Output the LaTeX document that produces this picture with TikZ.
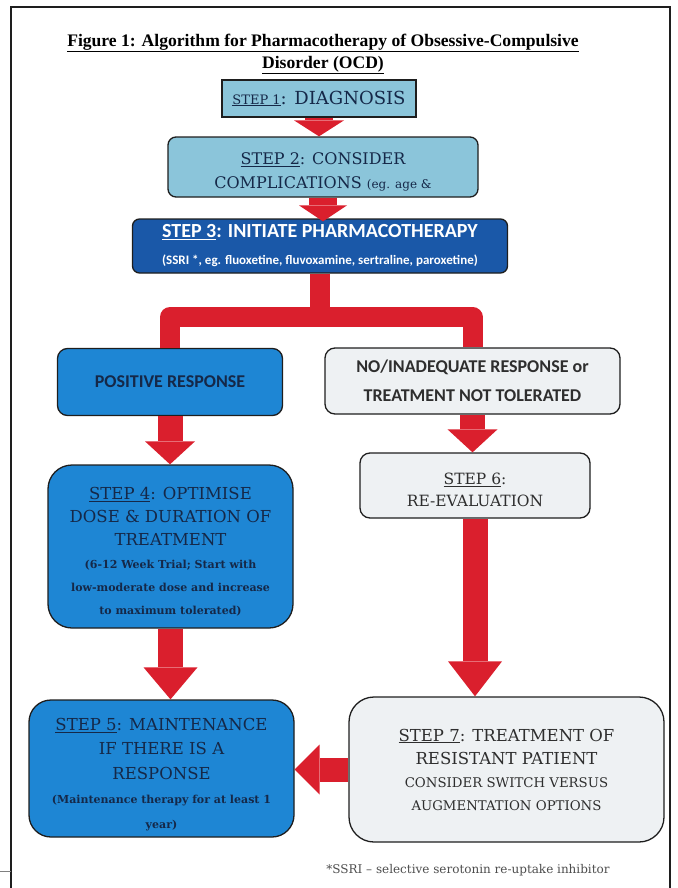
\documentclass[tikz,border=0pt]{standalone}
\usepackage{fontspec}
\setmainfont{DejaVu Serif}
\newfontfamily\headfont{Liberation Serif}
\newfontfamily\calfont{Carlito}
\usepackage{tikz}
\usetikzlibrary{arrows.meta,calc,positioning}
\definecolor{lightbox}{HTML}{8BC5DA}
\definecolor{darkbox}{HTML}{1A58A8}
\definecolor{midbox}{HTML}{1E86D4}
\definecolor{greybox}{HTML}{EEF1F3}
\definecolor{redarrow}{HTML}{DA1F2D}
\definecolor{navytext}{HTML}{152848}
\definecolor{greytext}{HTML}{2E2E2E}
\definecolor{edge}{HTML}{1E1E1E}
\newcommand{\bigtxt}{\fontsize{16.5}{23}\selectfont}
\newcommand{\smalltxt}{\bfseries\fontsize{11}{23.5}\selectfont}

\begin{document}
\begin{tikzpicture}[x=1pt,y=-1pt,
  stepbox/.style={draw=edge,line width=1.3pt,align=center,inner sep=0pt},
  lightstep/.style={stepbox,fill=lightbox,text=navytext},
  darkstep/.style={stepbox,fill=darkbox,text=white,rounded corners=7pt},
  bluestep/.style={stepbox,fill=midbox,text=navytext},
  greystep/.style={stepbox,fill=greybox,text=greytext},
  fatarrow/.style={draw=redarrow,line width=25pt},
  redbar/.style={draw=redarrow,line width=20pt,line join=round}]
\useasboundingbox (0,0) rectangle (677,888);
% page frame
\draw[edge,line width=1.5pt] (11,888) -- (11,7) -- (670,7) -- (670,888);
\draw[gray,line width=1pt] (0,871) -- (11,871);
% title
\node[font=\headfont\bfseries\fontsize{17.6}{22}\selectfont,align=center] (title) at (323,54)
  {\underline{Figure 1: Algorithm for Pharmacotherapy of Obsessive-Compulsive}\\\underline{Disorder (OCD)}};
% steps 1-3
\node[lightstep,minimum width=194pt,minimum height=37pt] (s1) at (319,98.5)
  {\fontsize{13}{14}\selectfont\underline{STEP 1}\fontsize{18}{20}\selectfont: DIAGNOSIS};
\node[lightstep,rounded corners=8pt,minimum width=310pt,minimum height=60pt,font=\fontsize{16}{24}\selectfont] (s2) at (323,167)
  {\rule{0pt}{22pt}\underline{STEP 2}: CONSIDER\\COMPLICATIONS {\fontsize{12}{14}\selectfont(eg. age \&}};
\node[darkstep,minimum width=375pt,minimum height=54pt,font=\calfont\bfseries\fontsize{20}{27}\selectfont] (s3) at (320,246)
  {\underline{STEP 3}: INITIATE PHARMACOTHERAPY\\{\fontsize{13}{14}\selectfont(SSRI *, eg. fluoxetine, fluvoxamine, sertraline, paroxetine)}};
% responses
\node[bluestep,rounded corners=10pt,minimum width=225pt,minimum height=67pt,font=\calfont\bfseries\fontsize{18}{29}\selectfont] (pos) at (170,382)
  {POSITIVE RESPONSE};
\node[greystep,rounded corners=10pt,minimum width=295pt,minimum height=66pt,font=\calfont\bfseries\fontsize{18}{29}\selectfont] (no) at (472.5,381)
  {NO/INADEQUATE RESPONSE or\\TREATMENT NOT TOLERATED};
% steps 4-7
\node[bluestep,rounded corners=24pt,minimum width=245pt,minimum height=163pt,font=\bigtxt] (s4) at (170.5,546.5)
  {\rule{0pt}{22pt}\underline{STEP 4}: OPTIMISE\\DOSE \& DURATION OF\\TREATMENT\\\smalltxt(6-12 Week Trial; Start with\\\smalltxt low-moderate dose and increase\\\smalltxt to maximum tolerated)};
\node[greystep,rounded corners=10pt,minimum width=230pt,minimum height=65pt,font=\fontsize{15.5}{22}\selectfont] (s6) at (475,485.5)
  {\rule{0pt}{21pt}\underline{STEP 6}:\\RE-EVALUATION};
\node[bluestep,rounded corners=22pt,minimum width=265pt,minimum height=137pt,font=\fontsize{16.5}{24.5}\selectfont] (s5) at (161.5,768.5)
  {\rule{0pt}{24pt}\underline{STEP 5}: MAINTENANCE\\IF THERE IS A\\RESPONSE\\\smalltxt\fontsize{11}{26}\selectfont(Maintenance therapy for at least 1\\\smalltxt\fontsize{11}{25}\selectfont year)};
\node[greystep,rounded corners=25pt,minimum width=315pt,minimum height=145pt,font=\bigtxt] (s7) at (506.5,769.5)
  {\underline{STEP 7}: TREATMENT OF\\RESISTANT PATIENT\\\fontsize{13.3}{23}\selectfont CONSIDER SWITCH VERSUS\\\fontsize{13.3}{23}\selectfont AUGMENTATION OPTIONS};
% footnote
\node[font=\fontsize{12}{14}\selectfont,text=greytext!85] (note) at (468,870) {*SSRI -- selective serotonin re-uptake inhibitor};
% red arrows
\draw[fatarrow,line width=28pt,-{Triangle[width=50pt,length=16pt,line width=0pt]}] (s1.south) -- (s1.south |- s2.north);
\draw[fatarrow,line width=28pt,-{Triangle[width=48pt,length=16pt,line width=0pt]}] (s2.south) -- ($(s2.south |- s3.north)+(0,3)$);
\coordinate (split) at (320,317);
\draw[redbar] (s3.south) -- (split);
\draw[redbar] (pos.north) |- (split) -| (no.north);
\draw[fatarrow,-{Triangle[width=50pt,length=23pt,line width=0pt]}] (pos.south) -- (pos.south |- s4.north);
\draw[fatarrow,-{Triangle[width=50pt,length=23pt,line width=0pt]}] (no.south) -- (no.south |- s6.north);
\draw[fatarrow,-{Triangle[width=54pt,length=32pt,line width=0pt]}] (s4.south) -- (s4.south |- s5.north);
\draw[fatarrow,-{Triangle[width=54pt,length=35pt,line width=0pt]}] (s6.south) -- (s6.south |- s7.north);
\draw[fatarrow,line width=24pt,-{Triangle[width=50pt,length=25pt,line width=0pt]}] (s7.west) -- (s7.west -| s5.east);
\end{tikzpicture}
\end{document}
